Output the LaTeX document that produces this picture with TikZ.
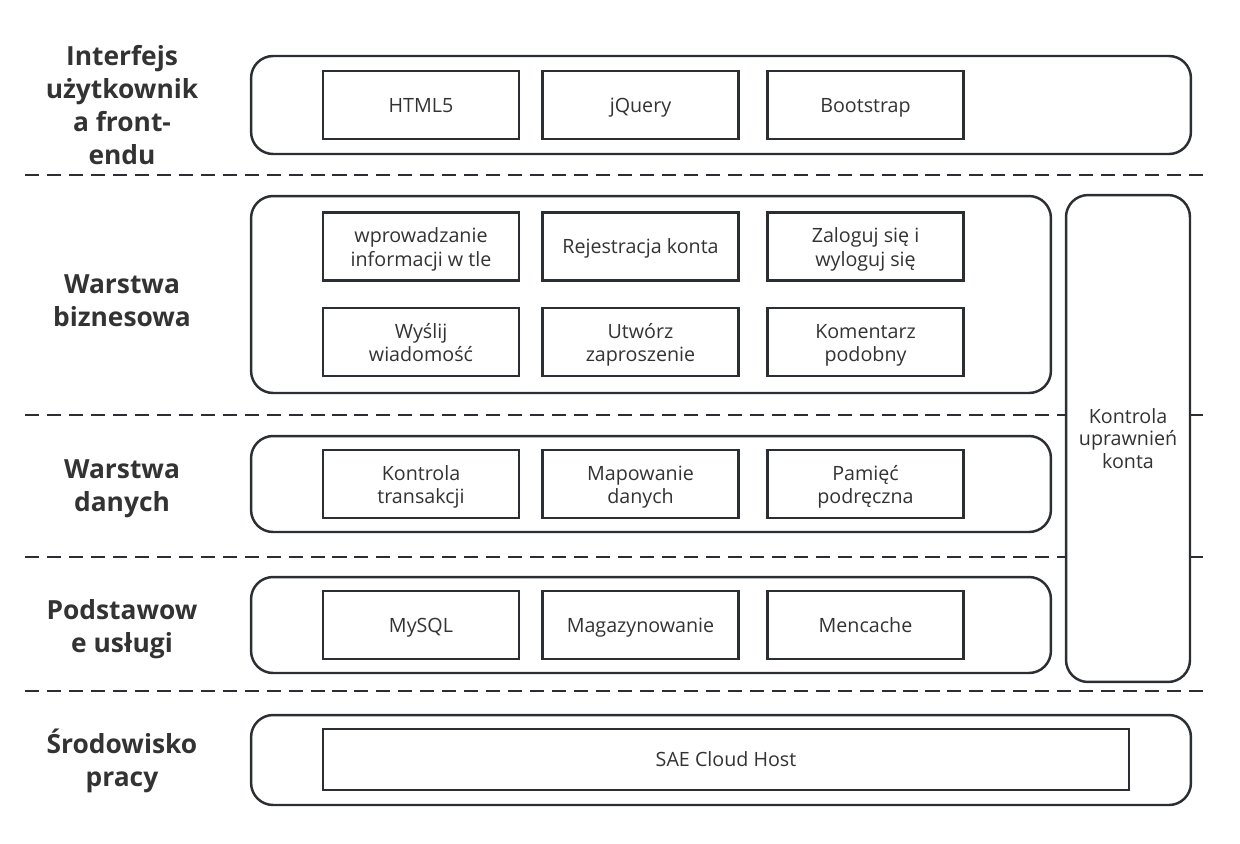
\documentclass[tikz,border=0pt]{standalone}
\usepackage{fontspec}
\setmainfont{Open Sans}
\definecolor{linec}{HTML}{2B2F33}
\definecolor{textc}{HTML}{333333}
\begin{document}
\begin{tikzpicture}[x=0.02cm, y=-0.02cm,
  layer/.style={draw=linec, line width=1.4pt, rounded corners=0.44cm, fill=white},
  item/.style={draw=linec, line width=1.4pt, fill=white, minimum width=3.92cm, minimum height=1.36cm,
    align=center, text=textc, font=\fontsize{11.2}{13.4}\selectfont, inner sep=1pt,
    execute at begin node={\rule{0pt}{11.5pt}}, execute at end node={\rule[-3.2pt]{0pt}{0pt}}},
  duo/.style={item, execute at begin node={\rule{0pt}{25.5pt}}},
  side/.style={text=textc, align=center, font=\bfseries\fontsize{15}{18.7}\selectfont},
  sep/.style={draw=linec, line width=1.6pt, dash pattern=on 8pt off 4.5pt}]
\path[use as bounding box] (0,0) rectangle (1240,843);
% Linie podzialu
\draw[sep] (25,175) -- (1203,175);
\draw[sep] (25,415) -- (1203,415);
\draw[sep] (25,557) -- (1203,557);
\draw[sep] (25,691) -- (1203,691);
% Warstwy
\node[layer, minimum width=18.8cm, minimum height=1.96cm] (ui) at (721,105) {};
\node[layer, minimum width=16cm, minimum height=3.94cm] (biz) at (651,294.5) {};
\node[layer, minimum width=16cm, minimum height=1.92cm] (data) at (651,484) {};
\node[layer, minimum width=16cm, minimum height=1.92cm] (base) at (651,625) {};
\node[layer, minimum width=18.8cm, minimum height=1.8cm] (env) at (721,760) {};
\node[layer, minimum width=2.48cm, minimum height=9.74cm, align=center, text=textc,
  font=\fontsize{11.2}{12.8}\selectfont] (auth) at (1128,438.5) {Kontrola\\uprawnień\\konta};
% Interfejs
\node[item] (html) at (421,105) {HTML5};
\node[item] (jquery) at (640.5,105) {jQuery};
\node[item] (boot) at (865.5,105) {Bootstrap};
% Biznes
\node[duo] (info) at (421,246.5) {wprowadzanie\\informacji w tle};
\node[item] (reg) at (640.5,246.5) {Rejestracja konta};
\node[duo] (login) at (865.5,246.5) {Zaloguj się i\\wyloguj się};
\node[duo] (msg) at (421,342) {Wyślij\\wiadomość};
\node[duo] (inv) at (640.5,342) {Utwórz\\zaproszenie};
\node[duo] (comm) at (865.5,342) {Komentarz\\podobny};
% Dane
\node[duo] (trans) at (421,484) {Kontrola\\transakcji};
\node[duo] (map) at (640.5,484) {Mapowanie\\danych};
\node[duo] (cache) at (865.5,484) {Pamięć\\podręczna};
% Uslugi
\node[item] (mysql) at (421,625) {MySQL};
\node[item] (store) at (640.5,625) {Magazynowanie};
\node[item] (menc) at (865.5,625) {Mencache};
% Srodowisko
\node[item, minimum width=16.12cm, minimum height=1.22cm] (sae) at (726,759.5) {SAE Cloud Host};
% Etykiety
\node[side] (l1) at (122,105) {Interfejs\\użytkownik\\a front-\\endu};
\node[side] (l2) at (122,301) {Warstwa\\biznesowa};
\node[side] (l3) at (122,489) {Warstwa\\danych};
\node[side] (l4) at (122,629) {Podstawow\\e usługi};
\node[side] (l5) at (122,761) {Środowisko\\pracy};
\end{tikzpicture}
\end{document}
